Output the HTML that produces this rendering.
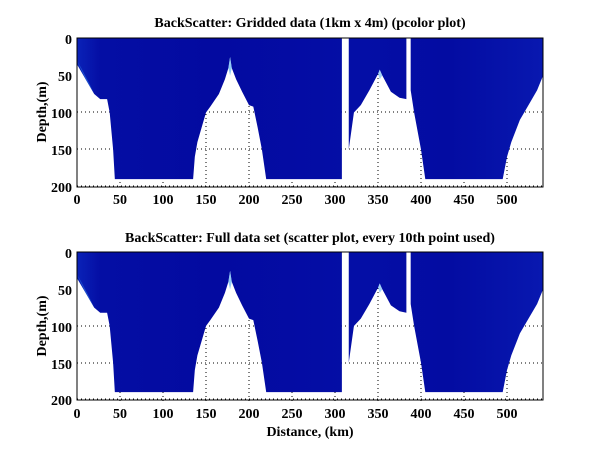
<!DOCTYPE html>
<html><head><meta charset="utf-8"><style>
body{margin:0;background:#fff}
svg{display:block}
text{font-family:"Liberation Serif",serif;font-weight:bold;fill:#000}
</style></head><body>
<svg width="600" height="451" viewBox="0 0 600 451" xmlns="http://www.w3.org/2000/svg">
<defs>
<linearGradient id="lg" gradientUnits="userSpaceOnUse" x1="0" x2="542" y1="0" y2="0">
<stop offset="0" stop-color="#0a22b8"/><stop offset="0.05" stop-color="#040ea4"/><stop offset="0.3" stop-color="#030aa0"/><stop offset="0.6" stop-color="#040ea6"/><stop offset="0.8" stop-color="#030ca2"/><stop offset="1" stop-color="#0818b0"/>
</linearGradient>
<g id="shapes">
<path fill="url(#lg)" d="M0,0 L308,0 L308,190 L220,190 L215,150 L210,120 L205,92 L200,90 L192,72 L185,55 L180,40 L178,25 L176,40 L172,55 L165,75 L155,92 L150,100 L145,120 L140,140 L137,160 L135,190 L44,190 L42,150 L38,100 L35,82 L27,82 L20,75 L10,55 L0,35 Z"/>
<path fill="url(#lg)" d="M316,0 L383,0 L383,82 L375,80 L365,72 L355,50 L352,42 L350,48 L340,70 L330,90 L322,100 L316,150 Z"/>
<path fill="url(#lg)" d="M388,0 L542,0 L542,50 L535,70 L525,90 L515,110 L505,140 L500,160 L495,190 L405,190 L400,150 L392,100 L388,70 Z"/>
<path fill="#2a70e0" opacity="0.6" d="M0,30 L10,55 L20,75 L14,60 L5,40 Z"/>
<path fill="#4aa8f0" opacity="0.6" d="M176,40 L178,25 L180,40 L178,50 Z"/>
<path fill="#4aa8f0" opacity="0.5" d="M350,48 L352,42 L355,50 L352,55 Z"/>
</g>
<g id="grid" stroke="#000" stroke-width="1" stroke-dasharray="1,3">
<line x1="120" x2="120" y1="0" y2="149"/><line x1="163" x2="163" y1="0" y2="149"/><line x1="206" x2="206" y1="0" y2="149"/><line x1="249" x2="249" y1="0" y2="149"/><line x1="292" x2="292" y1="0" y2="149"/><line x1="335" x2="335" y1="0" y2="149"/><line x1="378" x2="378" y1="0" y2="149"/><line x1="421" x2="421" y1="0" y2="149"/><line x1="464" x2="464" y1="0" y2="149"/><line x1="507" x2="507" y1="0" y2="149"/>
</g>
</defs>

<!-- top panel -->
<text x="310" y="27" font-size="14" text-anchor="middle">BackScatter: Gridded data (1km x 4m) (pcolor plot)</text>
<g stroke="#000" stroke-dasharray="1,3">
<line x1="77" x2="543" y1="112" y2="112"/><line x1="77" x2="543" y1="149" y2="149"/><line x1="77" x2="543" y1="186" y2="186"/>
</g>
<g transform="translate(0,38)"><use href="#grid"/></g>
<g transform="translate(77,38.5) scale(0.86,0.74)"><use href="#shapes"/></g>
<rect x="77" y="38" width="466" height="149" fill="none" stroke="#000"/>
<g font-size="14" text-anchor="end">
<text x="72" y="44">0</text><text x="72" y="81">50</text><text x="72" y="118">100</text><text x="72" y="155">150</text><text x="72" y="192">200</text>
</g>
<g font-size="14" text-anchor="middle">
<text x="77" y="204">0</text><text x="120" y="204">50</text><text x="163" y="204">100</text><text x="206" y="204">150</text><text x="249" y="204">200</text><text x="292" y="204">250</text><text x="335" y="204">300</text><text x="378" y="204">350</text><text x="421" y="204">400</text><text x="464" y="204">450</text><text x="507" y="204">500</text>
</g>
<text transform="translate(46,112) rotate(-90)" font-size="14" text-anchor="middle">Depth,(m)</text>

<!-- bottom panel -->
<text x="310" y="242" font-size="14" text-anchor="middle">BackScatter: Full data set (scatter plot, every 10th point used)</text>
<g stroke="#000" stroke-dasharray="1,3">
<line x1="77" x2="543" y1="326" y2="326"/><line x1="77" x2="543" y1="363" y2="363"/><line x1="77" x2="543" y1="399" y2="399"/>
</g>
<g transform="translate(0,252)"><use href="#grid"/></g>
<g transform="translate(77,252.5) scale(0.86,0.735)"><use href="#shapes"/></g>
<rect x="77" y="252" width="466" height="148" fill="none" stroke="#000"/>
<g font-size="14" text-anchor="end">
<text x="72" y="258">0</text><text x="72" y="295">50</text><text x="72" y="332">100</text><text x="72" y="369">150</text><text x="72" y="405">200</text>
</g>
<g font-size="14" text-anchor="middle">
<text x="77" y="418">0</text><text x="120" y="418">50</text><text x="163" y="418">100</text><text x="206" y="418">150</text><text x="249" y="418">200</text><text x="292" y="418">250</text><text x="335" y="418">300</text><text x="378" y="418">350</text><text x="421" y="418">400</text><text x="464" y="418">450</text><text x="507" y="418">500</text>
</g>
<text transform="translate(46,326) rotate(-90)" font-size="14" text-anchor="middle">Depth,(m)</text>
<text x="310" y="436" font-size="14" text-anchor="middle">Distance, (km)</text>
</svg>
</body></html>
